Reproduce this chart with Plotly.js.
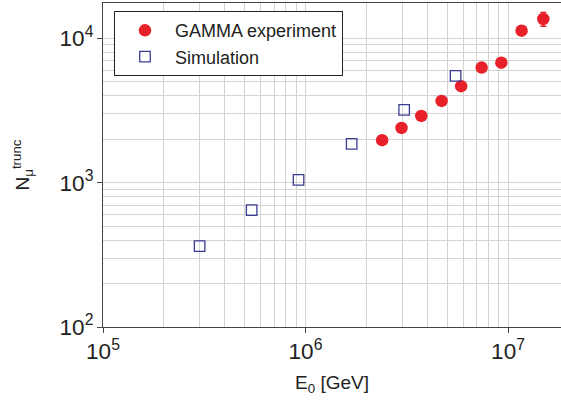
<!DOCTYPE html>
<html>
<head>
<meta charset="utf-8">
<script src="https://cdn.plot.ly/plotly-3.0.1.min.js"></script>
<style>html,body{margin:0;padding:0;background:#fff;}#chart{width:561px;height:406px;}</style>
</head>
<body>
<div id="chart"></div>
<script>
// Simulation (open squares)
const simE = [3.0e5, 5.42e5, 9.24e5, 1.69e6, 3.07e6, 5.51e6];
const simN = [363, 645, 1046, 1856, 3190, 5484];

// GAMMA experiment (filled circles)
const expE = [2.39e6, 2.98e6, 3.73e6, 4.70e6, 5.87e6, 7.41e6, 9.27e6, 1.167e7, 1.494e7];
const expN = [1968, 2395, 2899, 3683, 4656, 6264, 6776, 11290, 13600];
const expErr = [0, 0, 0, 0, 0, 0, 0, 0, 1500];

const fam = '"Liberation Sans", Arial, sans-serif';
const font = {family: fam, size: 18, color: '#222'};
const titleFont = {family: fam, size: 19, color: '#222'};
const gridc = '#d4d4d4';

const traces = [
  {
    x: expE, y: expN, type: 'scatter', mode: 'markers', name: 'GAMMA experiment',
    marker: {symbol: 'circle', size: 12.5, color: '#e8202a'},
    error_y: {type: 'data', array: expErr, visible: true, color: '#e8202a', thickness: 1.5, width: 3}
  },
  {
    x: simE, y: simN, type: 'scatter', mode: 'markers', name: 'Simulation',
    marker: {symbol: 'square-open', size: 10.5, color: '#3b3b96', line: {width: 1.3}}
  }
];

const layout = {
  width: 561, height: 406,
  margin: {l: 103, r: 0, t: 3, b: 79},
  paper_bgcolor: '#fff', plot_bgcolor: '#fff',
  font: font,
  showlegend: true,
  legend: {
    x: 0.024, y: 0.975, xanchor: 'left', yanchor: 'top',
    bgcolor: '#fff', bordercolor: '#222', borderwidth: 1,
    font: {family: fam, size: 18, color: '#222'},
    itemwidth: 50,
    traceorder: 'normal'
  },
  xaxis: {
    type: 'log', range: [5, 7.2617],
    showline: true, linecolor: '#444', linewidth: 1, mirror: true,
    ticks: 'outside', ticklen: 5, tickcolor: '#444',
    dtick: 1, exponentformat: 'power',
    showgrid: true, gridcolor: gridc, gridwidth: 1,
    minor: {dtick: 'D1', showgrid: true, gridcolor: gridc, gridwidth: 1, ticks: ''},
    zeroline: false,
    tickfont: font,
    title: {text: 'E<sub>0</sub> [GeV]', font: titleFont, standoff: 12}
  },
  yaxis: {
    type: 'log', range: [2, 4.2443],
    showline: true, linecolor: '#444', linewidth: 1, mirror: false,
    ticks: 'outside', ticklen: 5, tickcolor: '#444',
    dtick: 1, exponentformat: 'power',
    showgrid: true, gridcolor: gridc, gridwidth: 1,
    minor: {dtick: 'D1', showgrid: true, gridcolor: gridc, gridwidth: 1, ticks: ''},
    zeroline: false,
    tickfont: font,
    title: {text: 'N<sub>μ</sub><sup>trunc</sup>', font: titleFont, standoff: 24}
  }
};

Plotly.newPlot('chart', traces, layout, {displayModeBar: false, staticPlot: true});
</script>
</body>
</html>
